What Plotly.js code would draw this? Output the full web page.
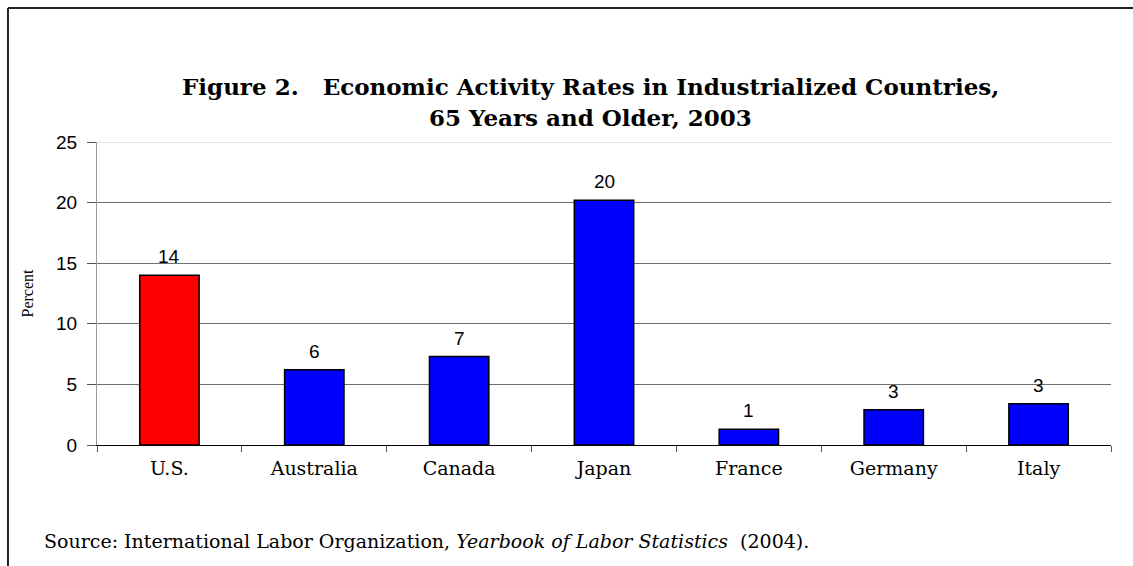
<!DOCTYPE html>
<html>
<head>
<meta charset="utf-8">
<script src="https://cdn.plot.ly/plotly-3.0.1.min.js"></script>
<style>html,body{margin:0;padding:0;background:#fff;}#chart{width:1133px;height:566px;}</style>
</head>
<body>
<div id="chart"></div>
<script>
const categories = ["U.S.", "Australia", "Canada", "Japan", "France", "Germany", "Italy"];
const values = [14.0, 6.2, 7.3, 20.2, 1.3, 2.9, 3.4];
const barColors = ["#FF0000", "#0000FF", "#0000FF", "#0000FF", "#0000FF", "#0000FF", "#0000FF"];
const yTicks = [0, 5, 10, 15, 20, 25];
const titleLines = ["Figure 2.   Economic Activity Rates in Industrialized Countries,", "65 Years and Older, 2003"];
const yTitle = "Percent";
const sourceText = "Source: International Labor Organization, <i>Yearbook of Labor Statistics</i>  (2004).";

const serif = "'DejaVu Serif', 'Liberation Serif', serif";
const sans = "'Liberation Sans', Arial, sans-serif";

const trace = {
  type: "bar",
  x: categories,
  y: values,
  marker: { color: barColors, line: { color: "#000", width: 1.5 } },
  hoverinfo: "none"
};

const labelAnnotations = categories.map((c, i) => ({
  x: c, y: values[i], xref: "x", yref: "y",
  text: String(Math.round(values[i])),
  showarrow: false, yanchor: "bottom", yshift: 6,
  font: { family: sans, size: 19, color: "#000" }
}));

const layout = {
  width: 1133, height: 566,
  margin: { l: 97, r: 22, t: 142, b: 121 },
  paper_bgcolor: "#fff", plot_bgcolor: "#fff",
  showlegend: false,
  bargap: 0.59,
  xaxis: {
    type: "category",
    showline: true, linecolor: "#000", linewidth: 1,
    ticks: "outside", tickson: "boundaries", ticklen: 6, tickcolor: "#555",
    showgrid: false,
    tickfont: { family: serif, size: 19, color: "#000" },
    ticklabelstandoff: 6
  },
  yaxis: {
    range: [0, 25], tickvals: yTicks, ticktext: yTicks.map(String),
    showline: true, linecolor: "#999", linewidth: 1,
    ticks: "outside", ticklen: 9, tickcolor: "#555",
    gridcolor: "#6f6f6f", gridwidth: 1,
    zeroline: false,
    tickfont: { family: sans, size: 19, color: "#000" },
    ticklabelstandoff: 6,
    title: { text: yTitle, font: { family: "'Liberation Serif', serif", size: 16, color: "#000" }, standoff: 18 }
  },
  annotations: [
    { xref: "paper", yref: "paper", x: 0.487, y: 1.182, text: "<b>" + titleLines[0] + "</b>",
      showarrow: false, xanchor: "center", yanchor: "middle",
      font: { family: serif, size: 23, color: "#000" } },
    { xref: "paper", yref: "paper", x: 0.487, y: 1.082, text: "<b>" + titleLines[1] + "</b>",
      showarrow: false, xanchor: "center", yanchor: "middle",
      font: { family: serif, size: 23, color: "#000" } },
    { xref: "paper", yref: "paper", x: -0.054, y: -0.318, text: sourceText,
      showarrow: false, xanchor: "left", yanchor: "middle",
      font: { family: serif, size: 19, color: "#000" } }
  ].concat(labelAnnotations),
  shapes: [
    { type: "line", xref: "paper", yref: "y", x0: 0, x1: 1, y0: 25, y1: 25, layer: "above",
      line: { color: "#dcdcdc", width: 1.5 } },
    { type: "line", xref: "paper", yref: "paper", x0: -0.0878, x1: 1.03, y0: 1.442, y1: 1.442,
      line: { color: "#222", width: 2 } },
    { type: "line", xref: "paper", yref: "paper", x0: -0.0878, x1: -0.0878, y0: -0.42, y1: 1.442,
      line: { color: "#222", width: 2 } }
  ]
};

Plotly.newPlot("chart", [trace], layout, { displayModeBar: false, staticPlot: true });
</script>
</body>
</html>
